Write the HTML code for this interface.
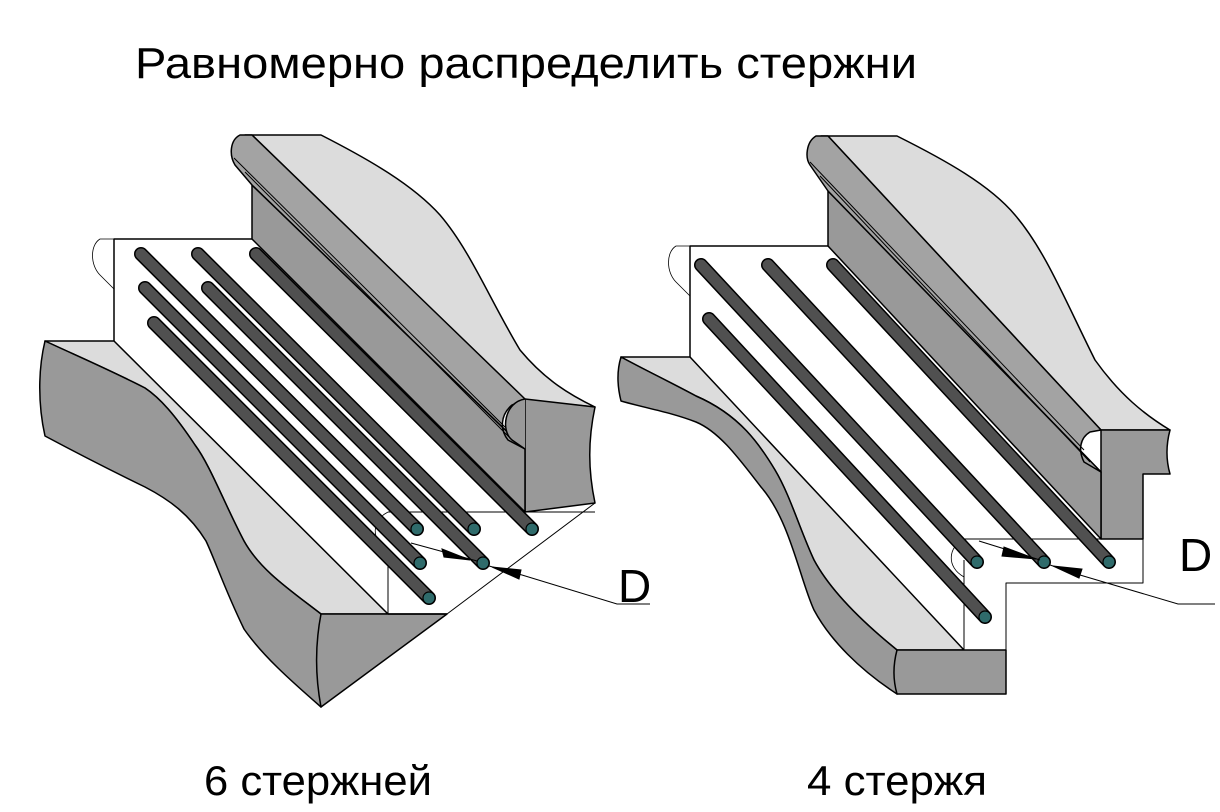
<!DOCTYPE html>
<html><head><meta charset="utf-8"><style>
html,body{margin:0;padding:0;background:#fff}
svg{display:block}
text{font-family:"Liberation Sans",sans-serif;fill:#000}
</style></head><body>
<svg width="1220" height="812" viewBox="0 0 1220 812" xmlns="http://www.w3.org/2000/svg">
<text x="135" y="78" font-size="44" textLength="782" lengthAdjust="spacingAndGlyphs">Равномерно распределить стержни</text>
<text x="204" y="795" font-size="42" textLength="228" lengthAdjust="spacingAndGlyphs">6 стержней</text>
<text x="807" y="795" font-size="42" textLength="180" lengthAdjust="spacingAndGlyphs">4 стержя</text>

<g stroke="#000" stroke-width="1.5" stroke-linejoin="round">
<!-- LEFT FIGURE -->
<path d="M245,135 L321,135 C370,160 413,185 440,215 C470,250 490,300 520,350 C545,380 570,395 595,407 L525,400 L252,135 Z" fill="#dcdcdc"/>
<path d="M525,399 L595,407 C588,440 588,470 595,503 L525,512 Z" fill="#999"/>
<path d="M252,185 L252,239 L525,512 L525,449 Z" fill="#999"/>
<path d="M252,135 L240,135 C230,140 229,155 235,165 L252,185 L525,449 L508,440 C500,430 500,415 512,405 L525,399 Z" fill="#a3a3a3"/>
<path d="M234,158 L508,430 M245,172 L512,440" fill="none" stroke-width="1"/>
<path d="M525,399 C505,402 500,430 512,440 L525,449" fill="#999"/>
<path d="M45,341 L114,341 L388,614 L321,614 C290,590 260,570 244,541 C225,505 210,465 195,445 C175,415 160,398 145,388 C110,370 75,355 45,341 Z" fill="#dcdcdc"/>
<path d="M45,341 C75,355 110,370 145,388 C160,398 175,415 195,445 C210,465 225,505 244,541 C260,570 290,590 321,614 L321,707 C290,680 262,655 244,629 C225,590 215,560 206,541 C190,515 170,500 145,487 C110,470 75,452 45,436 C38,405 38,370 45,341 Z" fill="#999"/>
<path d="M321,614 L447,614 L321,707 C315,675 315,645 321,614 Z" fill="#999"/>
<path d="M114,341 L114,239 L252,239 M388,614 L447,614" fill="none"/>
<path d="M388,512 L595,512 M388,550 L388,614 M595,503 L447,614" fill="none" stroke-width="1"/>
<path d="M114,239 L100,239 C90,245 90,265 100,275 L114,289" fill="none" stroke-width="0.8"/>
<path d="M388,512 C372,520 370,540 388,550" fill="none" stroke-width="0.8"/>
</g>

<g stroke-linecap="round">
<g stroke="#000" stroke-width="14">
<line x1="141" y1="254" x2="417" y2="529"/><line x1="198" y1="254" x2="474" y2="529"/><line x1="256" y1="254" x2="532" y2="529"/>
<line x1="145" y1="288" x2="420" y2="563"/><line x1="208" y1="288" x2="483" y2="563"/><line x1="154" y1="323" x2="429" y2="598"/>
</g>
<g stroke="#505050" stroke-width="11">
<line x1="141" y1="254" x2="417" y2="529"/><line x1="198" y1="254" x2="474" y2="529"/><line x1="256" y1="254" x2="532" y2="529"/>
<line x1="145" y1="288" x2="420" y2="563"/><line x1="208" y1="288" x2="483" y2="563"/><line x1="154" y1="323" x2="429" y2="598"/>
</g>
</g>
<g fill="#2f6b6b" stroke="#000" stroke-width="1.2">
<circle cx="417" cy="529" r="6"/><circle cx="474" cy="529" r="6"/><circle cx="532" cy="529" r="6"/>
<circle cx="420" cy="563" r="6"/><circle cx="483" cy="563" r="6"/><circle cx="429" cy="598" r="6"/>
</g>
<g stroke="#000" stroke-width="1" fill="#000">
<path d="M411,543 L477,561" fill="none"/>
<path d="M470,560 L442,549 L444,557 Z"/>
<path d="M489,566 L522,575 L617,604 L650,604" fill="none"/>
<path d="M492,567 L521,570 L519,579 Z"/>
</g>
<text x="618" y="602" font-size="46">D</text>

<!-- RIGHT FIGURE -->
<g stroke="#000" stroke-width="1.5" stroke-linejoin="round">
<path d="M821,136 L897,136 C945,160 990,185 1015,215 C1045,250 1065,300 1095,360 C1120,395 1145,415 1170,430 L1101,430 L828,136 Z" fill="#dcdcdc"/>
<path d="M1101,430 L1170,430 C1166,445 1166,460 1170,474 L1143,474 L1143,539 L1101,539 Z" fill="#999"/>
<path d="M828,191 L828,246 L1101,539 L1101,472 Z" fill="#999"/>
<path d="M828,136 L816,136 C806,142 805,158 810,165 L828,191 L1101,472 L1084,462 C1078,450 1080,438 1090,432 L1101,430 Z" fill="#a3a3a3"/>
<path d="M810,162 L1084,450 M820,176 L1090,462" fill="none" stroke-width="1"/>
<path d="M621,357 L690,357 L964,650 L897,650 C860,620 830,590 814,560 C800,530 790,495 775,470 C760,445 740,415 696,396 C670,382 645,370 621,357 Z" fill="#dcdcdc"/>
<path d="M621,357 C645,370 670,382 696,396 C740,415 760,445 775,470 C790,495 800,530 814,560 C830,590 860,620 897,650 L897,694 C860,670 830,640 814,610 C800,580 790,520 761,487 C740,460 720,432 696,422 C670,412 645,408 621,401 C617,385 617,370 621,357 Z" fill="#999"/>
<path d="M897,650 L1006,650 L1006,694 L897,694 C893,680 893,665 897,650 Z" fill="#999"/>
<path d="M690,357 L690,246 L828,246" fill="none"/>
<path d="M964,539 L1143,539 L1143,583 L1006,583 L1006,650 M964,560 L964,650" fill="none" stroke-width="1"/>
<path d="M690,246 L676,246 C666,252 666,272 676,282 L690,296" fill="none" stroke-width="0.8"/>
<path d="M964,539 C948,547 946,567 964,577" fill="none" stroke-width="0.8"/>
</g>
<g stroke-linecap="round">
<g stroke="#000" stroke-width="14">
<line x1="701" y1="265" x2="977" y2="562"/><line x1="768" y1="265" x2="1044" y2="562"/><line x1="833" y1="265" x2="1109" y2="562"/><line x1="709" y1="319" x2="985" y2="617"/>
</g>
<g stroke="#505050" stroke-width="11">
<line x1="701" y1="265" x2="977" y2="562"/><line x1="768" y1="265" x2="1044" y2="562"/><line x1="833" y1="265" x2="1109" y2="562"/><line x1="709" y1="319" x2="985" y2="617"/>
</g>
</g>
<g fill="#2f6b6b" stroke="#000" stroke-width="1.2">
<circle cx="977" cy="562" r="6"/><circle cx="1044" cy="562" r="6"/><circle cx="1109" cy="562" r="6"/><circle cx="985" cy="617" r="6"/>
</g>
<g stroke="#000" stroke-width="1" fill="#000">
<path d="M979,541 L1040,560" fill="none"/>
<path d="M1036,559 L1004,547 L1002,556 Z"/>
<path d="M1050,565 L1080,575 L1178,604 L1215,604" fill="none"/>
<path d="M1053,566 L1082,569 L1079,578 Z"/>
</g>
<text x="1179" y="571" font-size="46">D</text>
</svg>
</body></html>
